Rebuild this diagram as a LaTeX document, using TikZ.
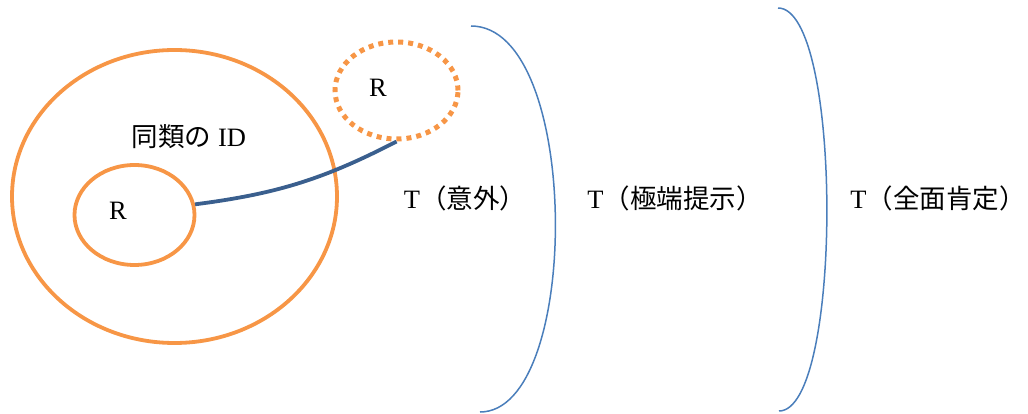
\documentclass[tikz,border=0pt]{standalone}
\usepackage{fontspec}
\setmainfont{Liberation Serif}
\newfontfamily\jp{Noto Sans CJK JP}
\usetikzlibrary{shapes.geometric}
\definecolor{setorange}{HTML}{F79646}
\definecolor{linkblue}{HTML}{3A5F8E}
\definecolor{arcblue}{HTML}{4A7EBB}

\begin{document}
\begin{tikzpicture}[x=1pt, y=-1pt, every node/.style={font=\fontsize{26.5}{30}\selectfont},
  setring/.style={ellipse,draw=setorange,line width=3.8pt,inner sep=0pt},
  closing/.style={draw=arcblue,line width=1.5pt},
  typelabel/.style={inner sep=0pt}]

\useasboundingbox (0,0) rectangle (1028,414);

% Sets
\node[setring,minimum width=325pt,minimum height=293pt] at (174.5,196.5) (idset) {};
\node[setring,minimum width=120pt,minimum height=100pt] at (134.5,215) (inner) {};
\node[setring,line width=5pt,dash pattern=on 5pt off 5pt,minimum width=123pt,minimum height=97pt] at (396.5,90.5) (outer) {};

% Labels
\node at (189,137) (idlabel) {{\jp 同類の}\ ID};
\node at (118,211) (rin) {R};
\node at (378,88) (rout) {R};

% Link
\draw[linkblue,line width=3.8pt] (inner.10) to[bend right=10] (outer.south);

% Closing arcs
\coordinate (a1top) at (471,26);
\coordinate (a1bot) at (480,412);
\draw[closing] (a1top) .. controls (582,26) and (582,412) .. (a1bot);
\coordinate (a2top) at (778,8);
\coordinate (a2bot) at (779,411);
\draw[closing] (a2top) .. controls (843,8) and (843,411) .. (a2bot);

% Types
\node[typelabel] at (465,198) (t1) {T{\jp （意外）}};
\node[typelabel] at (675,198) (t2) {T{\jp （極端提示）}};
\node[typelabel] at (938,198) (t3) {T{\jp （全面肯定）}};

\end{tikzpicture}
\end{document}
